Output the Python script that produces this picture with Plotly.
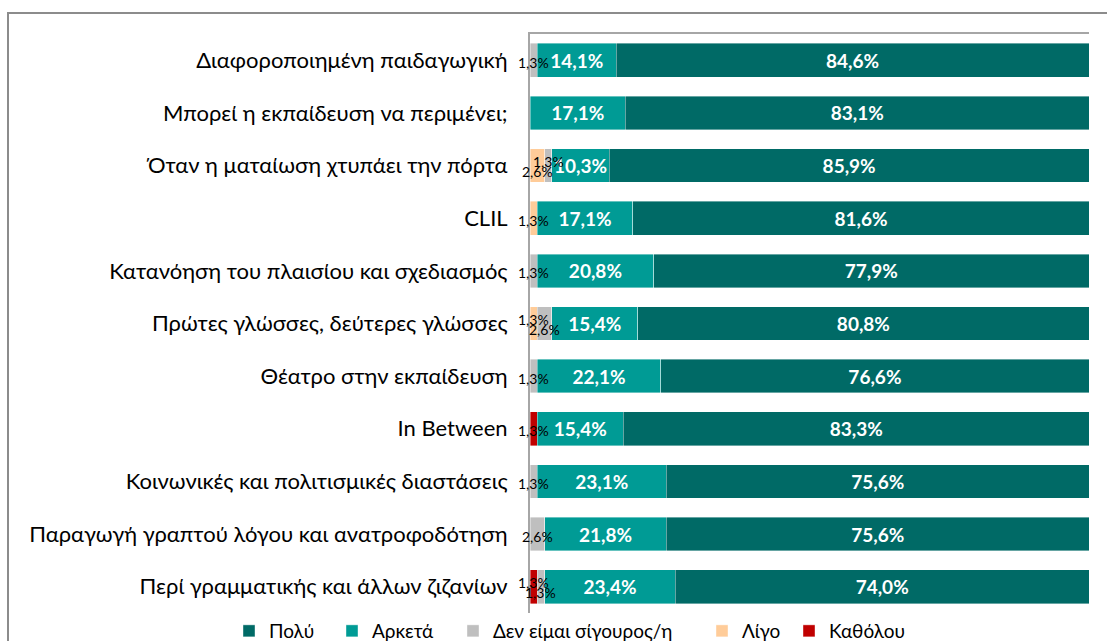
import plotly.graph_objects as go

categories = [
    "Διαφοροποιημένη παιδαγωγική",
    "Μπορεί η εκπαίδευση να περιμένει;",
    "Όταν η ματαίωση χτυπάει την πόρτα",
    "CLIL",
    "Κατανόηση του πλαισίου και σχεδιασμός",
    "Πρώτες γλώσσες, δεύτερες γλώσσες",
    "Θέατρο στην εκπαίδευση",
    "In Between",
    "Κοινωνικές και πολιτισμικές διαστάσεις",
    "Παραγωγή γραπτού λόγου και ανατροφοδότηση",
    "Περί γραμματικής και άλλων ζιζανίων",
]

katholou = [0, 0, 0, 0, 0, 0, 0, 1.3, 0, 0, 1.3]
ligo = [0, 0, 2.6, 1.3, 0, 1.3, 0, 0, 0, 0, 0]
den_eimai = [1.3, 0, 1.3, 0, 1.3, 2.6, 1.3, 0, 1.3, 2.6, 1.3]
arketa = [14.1, 17.1, 10.3, 17.1, 20.8, 15.4, 22.1, 15.4, 23.1, 21.8, 23.4]
poly = [84.6, 83.1, 85.9, 81.6, 77.9, 80.8, 76.6, 83.3, 75.6, 75.6, 74.0]

series = [
    ("Καθόλου", katholou, "#C00000"),
    ("Λίγο", ligo, "#FFCC99"),
    ("Δεν είμαι σίγουρος/η", den_eimai, "#BFBFBF"),
    ("Αρκετά", arketa, "#009B95"),
    ("Πολύ", poly, "#006A66"),
]

FONT = "Lato, 'Noto Sans', sans-serif"

L, R, T, B = 530, 18, 34, 28
W, H = 1107, 641
pw, ph = W - L - R, H - T - B

# legend entry left edges (px), one legend per series, in series order
legend_left_px = [789, 702, 453, 332, 229]


def fmt(v):
    return f"{v:.1f}%".replace(".", ",")


fig = go.Figure()
legend_layout = {}
for j, (name, vals, color) in enumerate(series):
    big = name in ("Αρκετά", "Πολύ")
    lg = "legend" if j == 0 else f"legend{j + 1}"
    fig.add_trace(go.Bar(
        y=categories, x=vals, name=name, orientation="h", legend=lg,
        marker=dict(color=color, line=dict(color="rgba(255,255,255,0.5)", width=0.8)),
        text=[fmt(v) if (big and v > 0) else "" for v in vals],
        textposition="inside", insidetextanchor="middle",
        textangle=0, constraintext="none",
        textfont=dict(family=FONT, size=19, color="white", weight="bold"),
        hoverinfo="skip",
    ))
    legend_layout[lg] = dict(
        orientation="h", x=(legend_left_px[j] - L) / pw, xanchor="left",
        y=-(631 - (H - B)) / ph, yanchor="middle",
        font=dict(family=FONT, size=19), itemwidth=30,
        bgcolor="rgba(0,0,0,0)",
    )

# small-value labels centered on their (normalized) segments
small_series = [katholou, ligo, den_eimai]
for i, cat in enumerate(categories):
    total = katholou[i] + ligo[i] + den_eimai[i] + arketa[i] + poly[i]
    cum = 0.0
    labels = []
    for vals in small_series:
        v = vals[i]
        if v > 0:
            labels.append(((cum + v / 2) / total * 100, v))
        cum += v
    n = len(labels)
    order = sorted(range(n), key=lambda k: labels[k][1])  # smaller value label goes up
    for rank, k in enumerate(order):
        xc, v = labels[k]
        shift = -2 if n == 1 else (4 if rank == 0 else -6)
        fig.add_annotation(
            x=xc, y=cat, text=fmt(v), showarrow=False,
            yshift=shift, xanchor="center", yanchor="middle",
            font=dict(family=FONT, size=14, color="black"),
        )

fig.add_shape(
    type="rect", xref="paper", yref="paper",
    x0=(8 - L) / pw, x1=(W + 20 - L) / pw,
    y0=-(H + 20 - (H - B)) / ph, y1=(H - B - 13) / ph,
    line=dict(color="#8C8C8C", width=2), fillcolor="rgba(0,0,0,0)", layer="below",
)

fig.update_layout(
    width=W, height=H,
    barmode="stack", barnorm="percent", bargap=0.36,
    plot_bgcolor="white", paper_bgcolor="white",
    margin=dict(l=L, r=R, t=T, b=B, pad=0, autoexpand=False),
    font=dict(family=FONT, size=22, color="black"),
    xaxis=dict(range=[0, 100], side="top", showticklabels=False, ticks="",
               showgrid=False, zeroline=False, showline=True,
               linecolor="#A6A6A6", linewidth=2, fixedrange=True),
    yaxis=dict(autorange="reversed", showline=True, linecolor="#A6A6A6", linewidth=2,
               ticks="", ticklabelstandoff=16, tickfont=dict(size=22),
               showgrid=False, fixedrange=True),
    showlegend=True,
    **legend_layout,
)

fig.write_html("out.html", config={"displayModeBar": False},
               post_script="document.body.style.margin='0';")
